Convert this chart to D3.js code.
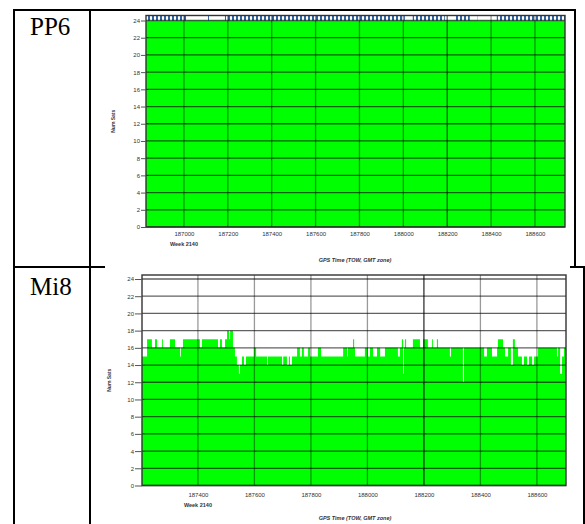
<!DOCTYPE html>
<html>
<head>
<meta charset="utf-8">
<script src="https://cdn.jsdelivr.net/npm/d3@7"></script>
<style>
  body { margin: 0; background: #fff; }
  svg { display: block; }
</style>
</head>
<body>
<svg id="page" width="585" height="524"></svg>
<script>
// row labels of the table
var receivers = ["PP6", "Mi8"];

// y ticks (number of satellites) and x ticks (GPS time of week, s)
var satTicks = [0, 2, 4, 6, 8, 10, 12, 14, 16, 18, 20, 22, 24];
var pp6Ticks = [187000, 187200, 187400, 187600, 187800, 188000, 188200, 188400, 188600];
var mi8Ticks = [187400, 187600, 187800, 188000, 188200, 188400, 188600];
var weekLabel = "Week 2140";

// PP6: segment boundaries (TOW) and sat count per segment (25 = above the 24 scale)
var pp6Tow = [186827, 186831, 187018, 187105, 187114, 187187, 188007, 188043,
  188189, 188239, 188303, 188339, 188349, 188426, 188737];
var pp6Sats = [24, 25, 24, 25, 24, 25, 24, 25, 24, 25, 24, 25, 24, 25];

// Mi8: segment boundaries (TOW) and sat count per segment
var mi8Tow = [187202, 187220, 187237, 187248, 187255, 187273, 187276, 187301, 187319, 187337,
  187340, 187347, 187407, 187414, 187471, 187478, 187485, 187496, 187503, 187510,
  187514, 187524, 187531, 187538, 187545, 187549, 187556, 187563, 187570, 187598,
  187606, 187645, 187648, 187698, 187702, 187715, 187722, 187726, 187733, 187751,
  187761, 187768, 187775, 187790, 187797, 187825, 187836, 187914, 187928, 187931,
  187949, 187953, 187956, 187991, 188002, 188009, 188020, 188034, 188045, 188062,
  188108, 188115, 188122, 188126, 188129, 188133, 188137, 188161, 188186, 188197,
  188214, 188229, 188232, 188246, 188250, 188292, 188296, 188338, 188342, 188413,
  188423, 188441, 188459, 188462, 188480, 188487, 188498, 188508, 188515, 188522,
  188533, 188547, 188554, 188565, 188572, 188583, 188590, 188604, 188671, 188675,
  188682, 188689, 188696, 188703];
var mi8Sats = [15, 17, 16, 17, 16, 17, 16, 17, 16, 15,
  16, 17, 16, 17, 16, 17, 16, 17, 18, 17,
  18, 16, 15, 14, 13, 14, 15, 14, 15, 16,
  15, 14, 15, 14, 15, 14, 15, 14, 15, 16,
  15, 16, 15, 16, 15, 16, 15, 16, 15, 16,
  17, 16, 15, 16, 15, 16, 15, 16, 15, 16,
  15, 16, 17, 13, 16, 17, 16, 17, 16, 17,
  16, 17, 16, 17, 16, 15, 16, 12, 16, 15,
  16, 15, 16, 17, 16, 15, 16, 14, 17, 16,
  15, 14, 15, 14, 15, 14, 15, 16, 15, 16,
  13, 15, 16];

var svg = d3.select("#page");

var defs = svg.append("defs");
var hatch = defs.append("pattern")
  .attr("id", "over")
  .attr("width", 4).attr("height", 6)
  .attr("patternUnits", "userSpaceOnUse");
hatch.append("rect").attr("width", 4).attr("height", 6).attr("fill", "#fff");
hatch.append("rect").attr("width", 2).attr("height", 6).attr("fill", "#2f64a8");

// table lines
var table = svg.append("g").attr("stroke", "#000").attr("stroke-width", 2);
[[13, 10, 576, 10], [14, 9, 14, 524], [90, 9, 90, 524], [14, 267, 105, 267],
 [570, 267, 585, 267], [575, 9, 575, 267], [584, 267, 584, 524]].forEach(function (l) {
  table.append("line").attr("x1", l[0]).attr("y1", l[1]).attr("x2", l[2]).attr("y2", l[3]);
});

svg.selectAll("text.row")
  .data(receivers)
  .enter()
  .append("text")
  .attr("class", "row")
  .attr("x", 30)
  .attr("y", function (d, i) { return i == 0 ? 35 : 295; })
  .style("font-family", "'Liberation Serif', serif")
  .style("font-size", "25px")
  .text(function (d) { return d; });

function drawChart(cfg) {
  var top = 24 + (cfg.y24 - cfg.frameTop) / ((cfg.bottom - cfg.y24) / 24);
  var x = d3.scaleLinear().domain([cfg.tow[0], cfg.tow[cfg.tow.length - 1]]).range([cfg.left, cfg.right]);
  var y = d3.scaleLinear().domain([0, top]).range([cfg.bottom, cfg.frameTop]);

  var pts = cfg.sats.map(function (v, i) { return { t: cfg.tow[i], v: v }; });
  pts.push({ t: cfg.tow[cfg.tow.length - 1], v: cfg.sats[cfg.sats.length - 1] });

  var g = svg.append("g");
  g.append("rect")
    .attr("x", cfg.left).attr("y", cfg.frameTop)
    .attr("width", cfg.right - cfg.left).attr("height", cfg.bottom - cfg.frameTop)
    .attr("fill", "#fff");

  g.append("path")
    .datum(pts)
    .attr("fill", "#00ff00")
    .attr("d", d3.area().curve(d3.curveStepAfter)
      .x(function (d) { return x(d.t); })
      .y0(y(0))
      .y1(function (d) { return y(Math.min(d.v, 24)); }));

  g.append("path")
    .datum(pts)
    .attr("fill", "url(#over)")
    .attr("d", d3.area().curve(d3.curveStepAfter)
      .x(function (d) { return x(d.t); })
      .y0(y(24))
      .y1(function (d) { return y(Math.min(Math.max(d.v, 24), top)); }));

  // grid
  g.selectAll("line.hg")
    .data(satTicks)
    .enter()
    .append("line")
    .attr("x1", cfg.left).attr("x2", cfg.right)
    .attr("y1", function (d) { return y(d); }).attr("y2", function (d) { return y(d); })
    .attr("stroke", "#000").attr("stroke-opacity", 0.62).attr("stroke-width", 1.3);
  g.selectAll("line.vg")
    .data(cfg.ticks)
    .enter()
    .append("line")
    .attr("x1", function (d) { return x(d); }).attr("x2", function (d) { return x(d); })
    .attr("y1", cfg.frameTop).attr("y2", cfg.bottom)
    .attr("stroke", "#000")
    .attr("stroke-opacity", function (d) { return d == 188200 ? cfg.markOpacity : 0.4; })
    .attr("stroke-width", 1.3);

  g.append("rect")
    .attr("x", cfg.left).attr("y", cfg.frameTop)
    .attr("width", cfg.right - cfg.left).attr("height", cfg.bottom - cfg.frameTop)
    .attr("fill", "none").attr("stroke", "#333").attr("stroke-width", 1.4);

  var yAxis = g.append("g")
    .attr("transform", "translate(" + cfg.left + ",0)")
    .call(d3.axisLeft(y).tickValues(satTicks).tickSize(cfg.tickLen).tickPadding(1));
  yAxis.select(".domain").remove();
  yAxis.selectAll("line").attr("stroke", "#555");
  yAxis.selectAll("text").attr("fill", "#333").style("font-size", "6px")
    .style("font-family", "'Liberation Sans', Arial, sans-serif");

  var xAxis = g.append("g")
    .attr("transform", "translate(0," + cfg.bottom + ")")
    .call(d3.axisBottom(x).tickValues(cfg.ticks).tickSize(0).tickPadding(cfg.labelPad)
      .tickFormat(d3.format("d")));
  xAxis.select(".domain").remove();
  xAxis.selectAll("text").attr("fill", "#333").style("font-size", "6px")
    .style("font-family", "'Liberation Sans', Arial, sans-serif");

  g.append("text")
    .attr("x", x(cfg.ticks[0])).attr("y", cfg.bottom + cfg.labelPad + 14)
    .attr("text-anchor", "middle")
    .attr("fill", "#333")
    .style("font", "bold 5.5px 'Liberation Sans', Arial, sans-serif")
    .text(weekLabel);

  g.append("text")
    .attr("x", 355).attr("y", cfg.titleY)
    .attr("text-anchor", "middle")
    .attr("fill", "#333")
    .style("font", "italic bold 5.5px 'Liberation Sans', Arial, sans-serif")
    .text("GPS Time (TOW, GMT zone)");

  g.append("text")
    .attr("transform", "translate(" + cfg.ytitleX + "," + (cfg.bottom + cfg.frameTop) / 2 + ") rotate(-90)")
    .attr("text-anchor", "middle")
    .attr("fill", "#333")
    .style("font", "bold 5px 'Liberation Sans', Arial, sans-serif")
    .text("Num Sats");
}

drawChart({ tow: pp6Tow, sats: pp6Sats, ticks: pp6Ticks, left: 146, right: 565,
  frameTop: 15.5, y24: 20.5, bottom: 227, tickLen: 5, labelPad: 5, titleY: 262, ytitleX: 115,
  markOpacity: 0.6 });
drawChart({ tow: mi8Tow, sats: mi8Sats, ticks: mi8Ticks, left: 142, right: 566,
  frameTop: 275, y24: 279, bottom: 485.5, tickLen: 7, labelPad: 7, titleY: 520, ytitleX: 111,
  markOpacity: 0.8 });
</script>
</body>
</html>
